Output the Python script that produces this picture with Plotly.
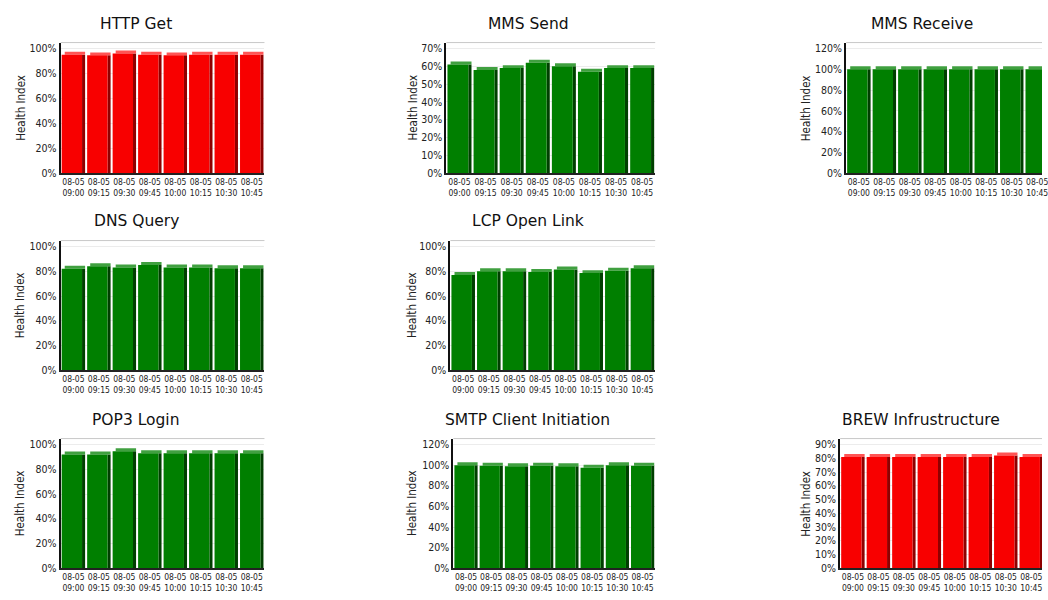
import plotly.graph_objects as go

# ---------------- data ----------------
time_labels = ["08-05<br>09:00", "08-05<br>09:15", "08-05<br>09:30", "08-05<br>09:45",
               "08-05<br>10:00", "08-05<br>10:15", "08-05<br>10:30", "08-05<br>10:45"]

http_get = [95, 94.5, 96, 95, 94.5, 95, 95, 95]
mms_send = [61, 58, 59, 62, 60, 57, 59, 59]
mms_receive = [100, 100, 100, 100, 100, 100, 100, 100]
dns_query = [82, 84, 83, 85, 83, 83, 82.5, 82.5]
lcp_open_link = [77, 80, 80, 79.5, 81.5, 78.5, 80.5, 82.5]
pop3_login = [92, 92, 94.5, 93, 93, 93, 93, 93]
smtp_client = [100, 99.5, 99, 99.5, 99, 97.5, 100, 99.5]
brew_infra = [81, 81, 81, 81, 81, 81, 82, 81]

titles = ["HTTP Get", "MMS Send", "MMS Receive", "DNS Query", "LCP Open Link",
          "POP3 Login", "SMTP Client Initiation", "BREW Infrustructure"]
series = [http_get, mms_send, mms_receive, dns_query, lcp_open_link,
          pop3_login, smtp_client, brew_infra]
axis_max = [100, 70, 120, 100, 100, 100, 120, 90]
axis_step = [20, 10, 20, 20, 20, 20, 20, 10]
status = ["red", "green", "green", "green", "green", "green", "green", "red"]

# ---------------- layout geometry (pixels) ----------------
W, H = 1048, 600
# (left, right, top, bottom) of plot area, title center x/y, ytitle x
panels = [
    (61, 266, 43, 175, 137, 24, 21),
    (449, 659, 43, 175, 532, 24, 415),
    (851, 1056, 43, 175, 927, 24, 811),
    (61, 266, 243, 374, 137, 223, 21),
    (453, 659, 243, 374, 531, 223, 415),
    (61, 266, 443, 574, 137, 424, 21),
    (456, 659, 443, 574, 531, 424, 415),
    (845, 1050, 443, 574, 926, 424, 811),
]

palette = {
    "red": dict(front="#f80000", side="#8f0000", cap="#ff5454"),
    "green": dict(front="#007f00", side="#003f00", cap="#40a040"),
}

NARROW = "DejaVu Sans Condensed, Liberation Sans Narrow, sans-serif"

fig = go.Figure()
xs = list(range(len(time_labels)))
shapes, annotations = [], []
layout_axes = {}

for i, (title, vals, vmax, step, st, geo) in enumerate(
        zip(titles, series, axis_max, axis_step, status, panels)):
    left, right, top, bottom, tcx, tcy, ytx = geo
    n = i + 1
    xa = "x" if n == 1 else f"x{n}"
    ya = "y" if n == 1 else f"y{n}"
    plot_h = bottom - top
    ytop = vmax * plot_h / (plot_h - 6)
    depth = 3 * ytop / plot_h
    col = palette[st]

    vis_right = min(right, W)
    xr_max = -0.5 + len(xs) * (vis_right - left) / (right - left)

    # dark side face
    fig.add_trace(go.Bar(x=xs, y=vals, base=0, width=0.12, offset=0.34,
                         marker=dict(color=col["side"], line=dict(width=0)),
                         xaxis=xa, yaxis=ya, showlegend=False, hoverinfo="skip"))
    # light top cap
    fig.add_trace(go.Bar(x=xs, y=[depth] * len(vals), base=vals, width=0.8, offset=-0.34,
                         marker=dict(color=col["cap"], line=dict(width=0)),
                         xaxis=xa, yaxis=ya, showlegend=False, hoverinfo="skip"))
    # front face
    fig.add_trace(go.Bar(x=xs, y=vals, width=0.8, offset=-0.46,
                         marker=dict(color=col["front"], line=dict(width=0)),
                         xaxis=xa, yaxis=ya, showlegend=False,
                         hovertemplate="%{y}%<extra></extra>"))

    xkey = "xaxis" if n == 1 else f"xaxis{n}"
    ykey = "yaxis" if n == 1 else f"yaxis{n}"
    layout_axes[xkey] = dict(
        domain=[left / W, vis_right / W], anchor=ya, range=[-0.5, xr_max],
        tickmode="array", tickvals=xs, ticktext=time_labels,
        tickfont=dict(family=NARROW, size=8.5, color="#222"),
        ticklabeloverflow="allow",
        showline=True, linecolor="#222", linewidth=1.5, showgrid=False,
        ticks="", zeroline=False, fixedrange=True)
    layout_axes[ykey] = dict(
        domain=[1 - bottom / H, 1 - top / H], anchor=xa, range=[0, ytop],
        tickmode="linear", tick0=0, dtick=step, ticksuffix="%",
        tickfont=dict(family=NARROW, size=10.5, color="#222"),
        showline=True, linecolor="#111", linewidth=2,
        showgrid=True, gridcolor="#ececec", gridwidth=1,
        ticks="", zeroline=False, fixedrange=True)

    shapes.append(dict(type="line", xref=f"{xa} domain", yref=f"{ya} domain",
                       x0=0, x1=1, y0=1, y1=1, line=dict(color="#c8c8c8", width=1)))
    annotations.append(dict(text=title, x=tcx / W, y=1 - tcy / H, xref="paper", yref="paper",
                            xanchor="center", yanchor="middle", showarrow=False,
                            font=dict(family="DejaVu Sans, sans-serif", size=15.5, color="#111")))
    annotations.append(dict(text="Health Index", x=ytx / W, y=1 - (top + bottom) / 2 / H,
                            xref="paper", yref="paper", xanchor="center", yanchor="middle",
                            textangle=-90, showarrow=False,
                            font=dict(family=NARROW, size=11.5, color="#222")))

fig.update_layout(
    width=W, height=H, margin=dict(l=0, r=0, t=0, b=0),
    paper_bgcolor="white", plot_bgcolor="white",
    barmode="overlay", shapes=shapes, annotations=annotations,
    **layout_axes)

fig.write_html("out.html", config={"displayModeBar": False})
